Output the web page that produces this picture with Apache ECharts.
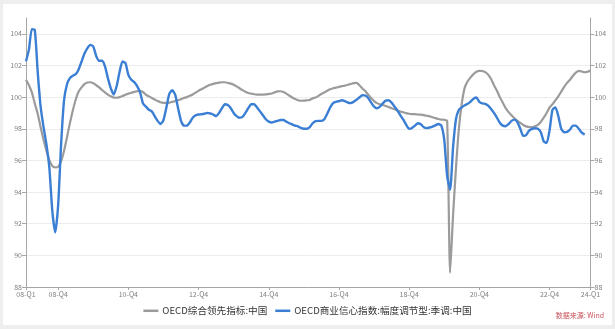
<!DOCTYPE html>
<html>
<head>
<meta charset="utf-8">
<script src="https://cdn.jsdelivr.net/npm/echarts@6/dist/echarts.min.js"></script>
<style>
html,body{margin:0;padding:0;background:#eeeeee;width:615px;height:329px;overflow:hidden;}
#panel{position:absolute;left:3px;top:4px;width:609px;height:321px;background:#ffffff;}
#chart{position:absolute;left:0;top:0;width:615px;height:329px;}
</style>
</head>
<body>
<div id="panel"></div>
<div id="chart"></div>
<script>
// Monthly data, Jan 2008 onward
const startYear = 2008;
const monthCount = 194; // Jan 2008 .. Feb 2024

// OECD综合领先指标:中国 (gray)
const cliChina = [
  101.1,100.75,100.3,99.6,98.95,98.1,97.3,96.6,96.0,95.65,
  95.56,95.6,95.95,96.6,97.45,98.35,99.15,99.85,100.35,100.62,
  100.82,100.92,100.94,100.88,100.75,100.62,100.45,100.3,100.16,100.05,
  99.97,99.96,100.0,100.07,100.15,100.22,100.28,100.33,100.38,100.38,
  100.32,100.15,100.05,99.95,99.85,99.75,99.68,99.64,99.63,99.65,
  99.7,99.75,99.8,99.87,99.94,100.0,100.08,100.17,100.28,100.4,
  100.5,100.6,100.7,100.78,100.84,100.88,100.92,100.94,100.94,100.9,
  100.85,100.78,100.68,100.56,100.44,100.34,100.26,100.22,100.18,100.16,
  100.16,100.16,100.17,100.2,100.23,100.3,100.36,100.37,100.32,100.22,
  100.1,99.98,99.88,99.8,99.77,99.78,99.8,99.82,99.92,99.98,
  100.08,100.2,100.3,100.4,100.49,100.56,100.6,100.65,100.69,100.73,
  100.78,100.83,100.88,100.9,100.75,100.55,100.38,100.15,99.95,99.75,
  99.62,99.55,99.5,99.44,99.37,99.3,99.23,99.16,99.09,99.04,
  98.99,98.95,98.93,98.92,98.9,98.89,98.86,98.82,98.78,98.73,
  98.67,98.62,98.58,98.57,98.5,88.9,92.5,95.5,98.0,99.6,
  100.6,101.0,101.25,101.45,101.6,101.66,101.65,101.58,101.42,101.15,
  100.75,100.4,100.0,99.65,99.3,99.05,98.85,98.66,98.5,98.37,
  98.24,98.15,98.11,98.1,98.16,98.25,98.43,98.7,99.0,99.35,
  99.55,99.8,100.05,100.35,100.65,100.9,101.1,101.35,101.55,101.66,
  101.62,101.57,101.6,101.68
];

// OECD商业信心指数:幅度调节型:季调:中国 (blue)
const bciChina = [
  102.27,103.0,104.3,104.25,101.6,99.4,98.1,97.0,95.5,92.8,
  91.45,93.2,97.0,99.8,100.8,101.2,101.35,101.45,101.75,102.25,
  102.75,103.1,103.3,103.2,102.6,102.3,102.3,101.95,101.2,100.55,
  100.16,100.7,101.6,102.25,102.15,101.4,101.1,100.95,100.7,100.3,
  99.6,99.4,99.2,99.1,98.8,98.5,98.3,98.55,99.35,100.2,
  100.43,100.15,99.3,98.5,98.2,98.2,98.4,98.7,98.85,98.9,
  98.92,98.95,99.0,98.97,98.9,98.8,99.0,99.3,99.55,99.5,
  99.3,99.0,98.8,98.7,98.75,99.0,99.3,99.55,99.55,99.35,
  99.1,98.85,98.6,98.45,98.4,98.45,98.5,98.55,98.55,98.45,
  98.35,98.28,98.2,98.15,98.05,98.0,98.0,98.1,98.35,98.48,
  98.5,98.5,98.6,98.95,99.35,99.62,99.7,99.75,99.8,99.75,
  99.66,99.62,99.7,99.83,99.98,100.12,100.1,99.94,99.65,99.4,
  99.3,99.4,99.6,99.78,99.8,99.65,99.4,99.15,98.85,98.57,
  98.25,98.0,98.05,98.2,98.35,98.28,98.1,98.04,98.08,98.14,
  98.22,98.3,98.2,97.3,95.0,94.15,96.8,98.6,99.2,99.35,
  99.48,99.58,99.72,99.9,99.98,99.7,99.6,99.58,99.46,99.25,
  99.0,98.7,98.38,98.2,98.16,98.3,98.5,98.58,98.42,98.0,
  97.55,97.6,97.88,98.0,98.03,98.0,97.8,97.2,97.1,97.9,
  99.2,99.35,98.8,98.0,97.78,97.8,97.95,98.2,98.2,98.0,
  97.75,97.63
];

const seriesNames = ['OECD综合领先指标:中国', 'OECD商业信心指数:幅度调节型:季调:中国'];
const tickLabels = ['08-Q1','08-Q4','10-Q4','12-Q4','14-Q4','16-Q4','18-Q4','20-Q4','22-Q4','24-Q1'];

const categories = [];
for (let m = 0; m < monthCount; m++) {
  const y = startYear + Math.floor(m / 12);
  const q = Math.floor((m % 12) / 3) + 1;
  categories.push(String(y).slice(2) + '-Q' + q);
}
// show a label on the last month of each labelled quarter (and the first / last point)
const shownIdx = new Set();
tickLabels.forEach(function (lab, k) {
  if (k === 0) { shownIdx.add(0); return; }
  if (k === tickLabels.length - 1) { shownIdx.add(monthCount - 1); return; }
  let last = -1;
  categories.forEach(function (c, i) { if (c === lab) last = i; });
  shownIdx.add(last);
});
const showFn = function (idx) { return shownIdx.has(idx); };

const FONT = '"Noto Sans CJK SC", "Noto Sans", sans-serif';
const chart = echarts.init(document.getElementById('chart'), null, {renderer: 'canvas'});

const yBase = {
  type: 'value', min: 88, max: 105, interval: 2,
  axisLine: {show: true, lineStyle: {color: '#a6a6a6', width: 1}},
  axisTick: {show: true, length: 4, lineStyle: {color: '#a6a6a6'}},
  axisLabel: {fontSize: 7, color: '#808080', fontFamily: FONT, margin: 4, showMaxLabel: false}
};

chart.setOption({
  animation: false,
  backgroundColor: 'transparent',
  textStyle: {fontFamily: FONT},
  grid: {left: 26, right: 24.5, top: 18, bottom: 42, containLabel: false},
  legend: {
    data: seriesNames,
    left: 'center', top: 301,
    icon: 'rect', itemWidth: 15, itemHeight: 2.5, itemGap: 8,
    textStyle: {fontSize: 9.6, color: '#333', fontFamily: FONT, padding: [0, 0, 0, -1]}
  },
  graphic: [{
    type: 'text', right: 11, top: 312,
    style: {text: '数据来源: Wind', fontSize: 7, fill: '#c9505a', fontFamily: FONT}
  }],
  xAxis: {
    type: 'category', data: categories, boundaryGap: false,
    axisLine: {lineStyle: {color: '#a6a6a6'}},
    axisTick: {show: true, interval: showFn, length: 3, lineStyle: {color: '#a6a6a6'}},
    axisLabel: {interval: showFn, fontSize: 7, color: '#808080', fontFamily: FONT, margin: 4},
    splitLine: {show: false}
  },
  yAxis: [
    Object.assign({}, yBase, {position: 'left',
      splitLine: {show: true, showMaxLine: false, showMinLine: false, lineStyle: {color: '#ececec', width: 1}}}),
    Object.assign({}, yBase, {position: 'right', splitLine: {show: false}})
  ],
  series: [
    {
      name: seriesNames[0], type: 'line', data: cliChina, yAxisIndex: 0,
      showSymbol: false, smooth: 0.2, lineStyle: {color: '#9b9b9b', width: 2.2},
      itemStyle: {color: '#9b9b9b'}, z: 2
    },
    {
      name: seriesNames[1], type: 'line', data: bciChina, yAxisIndex: 0,
      showSymbol: false, smooth: 0.2, lineStyle: {color: '#3b7fd4', width: 2.4},
      itemStyle: {color: '#3b7fd4'}, z: 3
    }
  ]
});
</script>
</body>
</html>
